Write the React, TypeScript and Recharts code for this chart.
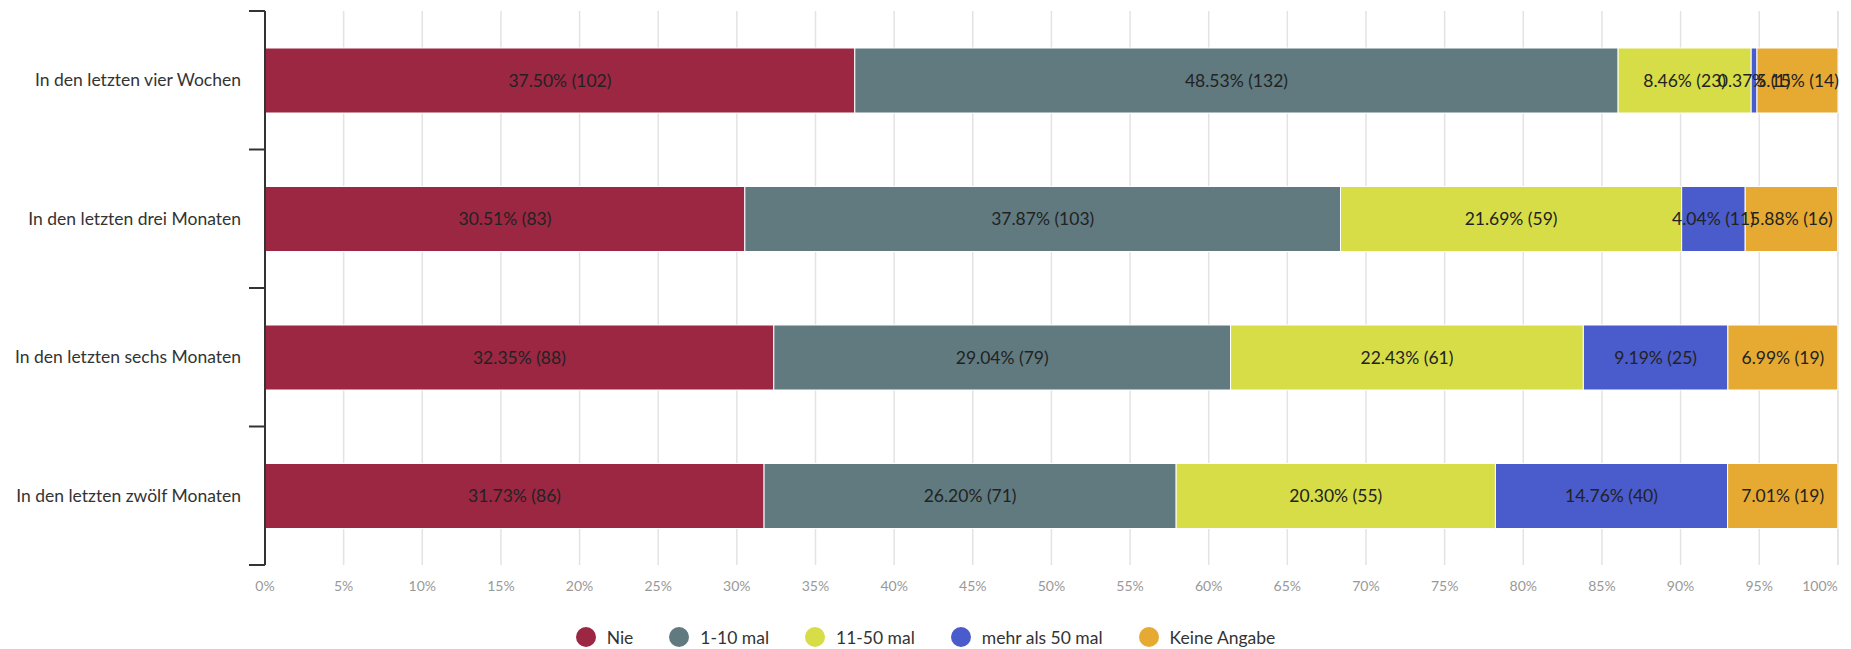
import React from 'react';
import { BarChart, Bar, XAxis, YAxis, CartesianGrid, LabelList, Legend } from 'recharts';

const CATEGORIES = [
  'In den letzten vier Wochen',
  'In den letzten drei Monaten',
  'In den letzten sechs Monaten',
  'In den letzten zwölf Monaten',
];

const SERIES_NAMES = ['Nie', '1-10 mal', '11-50 mal', 'mehr als 50 mal', 'Keine Angabe'];
const SERIES_COLORS = ['#9b2743', '#607a80', '#d6dd47', '#4a5bcc', '#e6aa33'];

const NIE_PCT = [37.5, 30.51, 32.35, 31.73];
const NIE_N = [102, 83, 88, 86];
const MAL_1_10_PCT = [48.53, 37.87, 29.04, 26.2];
const MAL_1_10_N = [132, 103, 79, 71];
const MAL_11_50_PCT = [8.46, 21.69, 22.43, 20.3];
const MAL_11_50_N = [23, 59, 61, 55];
const MEHR_50_PCT = [0.37, 4.04, 9.19, 14.76];
const MEHR_50_N = [1, 11, 25, 40];
const KEINE_PCT = [5.15, 5.88, 6.99, 7.01];
const KEINE_N = [14, 16, 19, 19];

const X_TICKS = [0, 5, 10, 15, 20, 25, 30, 35, 40, 45, 50, 55, 60, 65, 70, 75, 80, 85, 90, 95, 100];

const PCTS = [NIE_PCT, MAL_1_10_PCT, MAL_11_50_PCT, MEHR_50_PCT, KEINE_PCT];
const COUNTS = [NIE_N, MAL_1_10_N, MAL_11_50_N, MEHR_50_N, KEINE_N];
const KEYS = ['s0', 's1', 's2', 's3', 's4'];

const data = CATEGORIES.map((cat, i) => {
  const row: Record<string, any> = { cat };
  KEYS.forEach((k, s) => {
    row[k] = PCTS[s][i];
    row[k + 'Label'] = `${PCTS[s][i].toFixed(2)}% (${COUNTS[s][i]})`;
  });
  return row;
});

const W = 1851;
const H = 649;
const MARGIN = { top: 11, right: 13, left: 0, bottom: 54 };
const X_AXIS_H = 30;
const BAND = (H - MARGIN.top - MARGIN.bottom - X_AXIS_H) / CATEGORIES.length;
const FONT = 'Lato, "Open Sans", sans-serif';

const YTick = (props: any) => {
  const { x, y, payload, index } = props;
  const lineX1 = x + 8;
  const lineX2 = x + 24;
  return (
    <g>
      <text x={x} y={y} dy="0.35em" textAnchor="end" fill="#333" fontSize={17.5} fontFamily={FONT}>
        {payload.value}
      </text>
      <line x1={lineX1} x2={lineX2} y1={y - BAND / 2} y2={y - BAND / 2} stroke="#333" strokeWidth={2} />
      {index === CATEGORIES.length - 1 && (
        <line x1={lineX1} x2={lineX2} y1={y + BAND / 2} y2={y + BAND / 2} stroke="#333" strokeWidth={2} />
      )}
    </g>
  );
};

const XTick = (props: any) => {
  const { x, y, payload } = props;
  const isLast = payload.value === 100;
  return (
    <text
      x={x}
      y={y}
      dy="0.35em"
      textAnchor={isLast ? 'end' : 'middle'}
      fill="#999"
      fontSize={14}
      fontFamily={FONT}
    >
      {`${payload.value}%`}
    </text>
  );
};

const BarLabel = (props: any) => {
  const { x, y, width, height, value } = props;
  return (
    <text
      x={x + width / 2}
      y={y + height / 2}
      dy="0.35em"
      textAnchor="middle"
      fill="#222"
      fontSize={17.5}
      fontFamily={FONT}
    >
      {value}
    </text>
  );
};

const LegendContent = () => (
  <div
    style={{
      display: 'flex',
      justifyContent: 'center',
      alignItems: 'center',
      fontFamily: FONT,
      fontSize: 17.5,
      color: '#333',
      height: 24,
    }}
  >
    {SERIES_NAMES.map((name, i) => (
      <div key={name} style={{ display: 'flex', alignItems: 'center', marginRight: i < SERIES_NAMES.length - 1 ? 36 : 0 }}>
        <span
          style={{
            display: 'inline-block',
            width: 20,
            height: 20,
            borderRadius: 10,
            background: SERIES_COLORS[i],
            marginRight: 11,
          }}
        />
        <span>{name}</span>
      </div>
    ))}
  </div>
);

export default function App() {
  return (
    <div style={{ position: 'absolute', left: 0, top: 0, width: W, height: H, background: '#fff', fontFamily: FONT }}>
      <BarChart width={W} height={H} data={data} layout="vertical" margin={MARGIN} barSize={65}>
        <CartesianGrid horizontal={false} stroke="#e3e3e3" strokeWidth={1.5} />
        <XAxis
          type="number"
          domain={[0, 100]}
          ticks={X_TICKS}
          interval={0}
          axisLine={false}
          tickLine={false}
          tickSize={6}
          tickMargin={15}
          height={X_AXIS_H}
          tick={<XTick />}
        />
        {KEYS.map((k, s) => (
          <Bar
            key={k}
            dataKey={k}
            name={SERIES_NAMES[s]}
            stackId="a"
            fill={SERIES_COLORS[s]}
            stroke="#ffffff"
            strokeWidth={1}
            isAnimationActive={false}
          >
            <LabelList dataKey={k + 'Label'} content={<BarLabel />} isAnimationActive={false} />
          </Bar>
        ))}
        <YAxis
          type="category"
          dataKey="cat"
          width={265}
          axisLine={{ stroke: '#333', strokeWidth: 2 }}
          tickLine={false}
          tickSize={0}
          tickMargin={24}
          interval={0}
          tick={<YTick />}
        />
        <Legend
          layout="horizontal"
          verticalAlign="middle"
          align="center"
          content={<LegendContent />}
          wrapperStyle={{ position: 'absolute', left: 0, top: 625, width: W }}
        />
      </BarChart>
    </div>
  );
}
